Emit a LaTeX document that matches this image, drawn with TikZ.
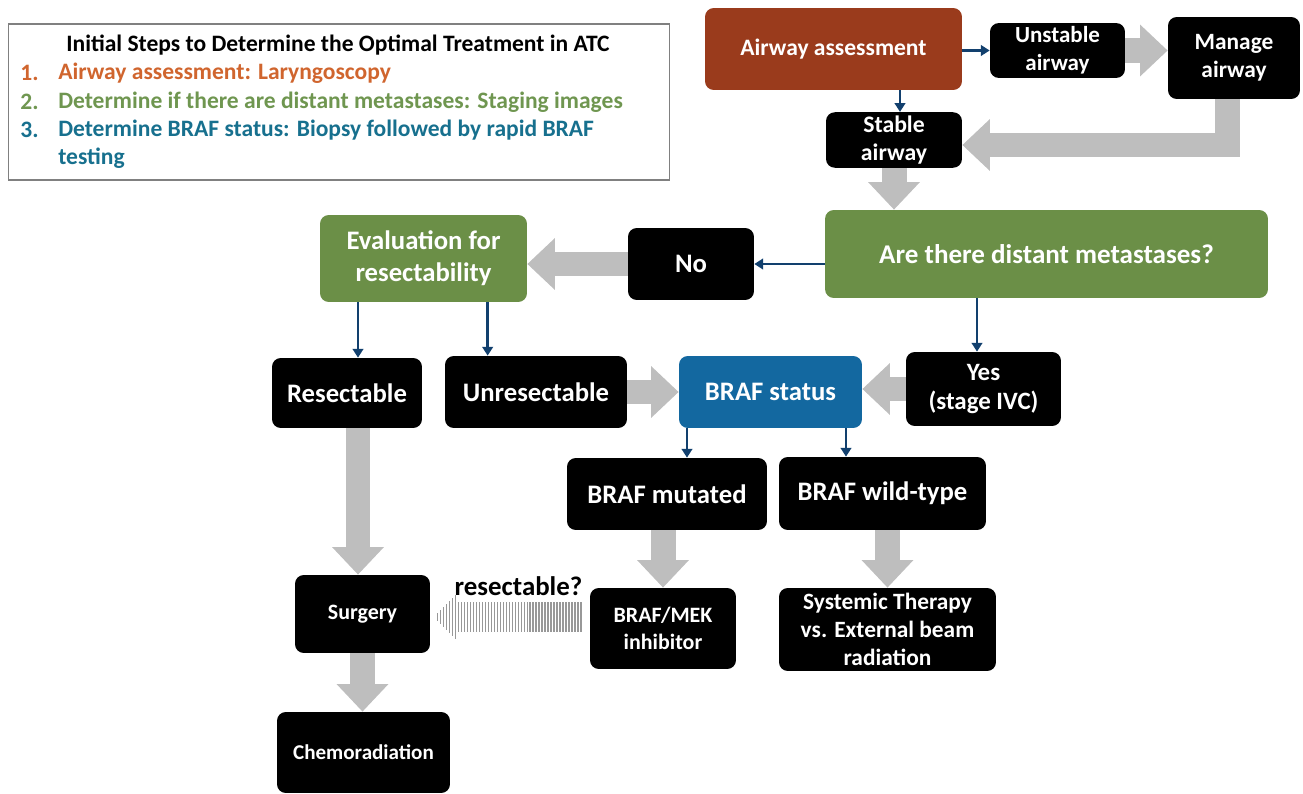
\documentclass[tikz,border=0pt]{standalone}
\usepackage{fontspec}
\setmainfont{Carlito}
\usetikzlibrary{arrows.meta,positioning,calc}

\definecolor{brownbox}{HTML}{9A3B1C}
\definecolor{greenbox}{HTML}{6B8F47}
\definecolor{bluebox}{HTML}{1368A0}
\definecolor{navyarrow}{HTML}{12406E}
\definecolor{grayarrow}{HTML}{BEBEBE}
\definecolor{legorange}{HTML}{D0652E}
\definecolor{leggreen}{HTML}{6F9650}
\definecolor{legblue}{HTML}{17708E}

\tikzset{
  box/.style={rectangle, rounded corners=5pt, align=center, text=white, inner sep=2pt,
    font=\bfseries\fontsize{15.2}{18}\selectfont},
  blackbox/.style={box, fill=black},
  smallbox/.style={blackbox, font=\bfseries\fontsize{12.5}{15}\selectfont},
  legtext/.style={anchor=west, inner sep=0pt, font=\bfseries\fontsize{13.4}{16}\selectfont},
  navy/.style={navyarrow, line width=1.4pt, -{Triangle[length=5pt,width=6pt]}},
  fat/.style={grayarrow, line width=0.5cm, -{Triangle[length=0.55cm,width=1cm]}},
}

\begin{document}
\begin{tikzpicture}[x=0.02cm,y=-0.02cm]
  \useasboundingbox (0,0) rectangle (1303,794);

  % legend
  \node[draw=gray, line width=0.6pt, minimum width=13.24cm, minimum height=3.12cm] (legend) at (339,102) {};
  \node[legtext, anchor=center, text=black] (leg0) at (338,45) {Initial Steps to Determine the Optimal Treatment in ATC};
  \node[legtext, text=legorange] (num1) at (20,73) {1.};
  \node[legtext, text=legorange] (leg1) at (58,73) {Airway assessment: Laryngoscopy};
  \node[legtext, text=leggreen]  (num2) at (20,102) {2.};
  \node[legtext, text=leggreen]  (leg2) at (58,102) {Determine if there are distant metastases: Staging images};
  \node[legtext, text=legblue]   (num3) at (20,130) {3.};
  \node[legtext, text=legblue]   (leg3) at (58,130) {Determine BRAF status: Biopsy followed by rapid BRAF};
  \node[legtext, text=legblue]   (leg4) at (58,158) {testing};

  % boxes
  \node[box, fill=brownbox, font=\bfseries\fontsize{13.4}{16}\selectfont, minimum width=5.14cm, minimum height=1.64cm] (airway) at (833.5,49) {Airway assessment};
  \node[blackbox, font=\bfseries\fontsize{13.1}{16}\selectfont, minimum width=2.7cm, minimum height=1.02cm] (unstable) at (1057.5,50.5) {Unstable\\airway};
  \node[blackbox, font=\bfseries\fontsize{13.3}{16}\selectfont, minimum width=2.64cm, minimum height=1.64cm] (manage) at (1234,58) {Manage\\airway};
  \node[blackbox, font=\bfseries\fontsize{13.5}{16}\selectfont, minimum width=2.72cm, minimum height=1.0cm] (stable) at (894,140) {Stable\\airway};
  \node[box, fill=greenbox, font=\bfseries\fontsize{15.4}{18}\selectfont, minimum width=8.86cm, minimum height=1.76cm] (distant) at (1046.5,254) {Are there distant metastases?};
  \node[blackbox, minimum width=2.52cm, minimum height=1.44cm] (no) at (691,264) {No};
  \node[box, fill=greenbox, minimum width=4.14cm, minimum height=1.74cm] (eval) at (423.5,258.5) {Evaluation for\\resectability};
  \node[blackbox, minimum width=3.0cm, minimum height=1.4cm] (res) at (347,393) {Resectable};
  \node[blackbox, minimum width=3.64cm, minimum height=1.44cm] (unres) at (536,392) {Unresectable};
  \node[box, fill=bluebox, minimum width=3.66cm, minimum height=1.44cm] (braf) at (770.5,392) {BRAF status};
  \node[blackbox, font=\bfseries\fontsize{14.2}{17}\selectfont, minimum width=3.1cm, minimum height=1.48cm] (yes) at (983.5,389) {Yes\\(stage IVC)};
  \node[blackbox, minimum width=4.0cm, minimum height=1.44cm] (mut) at (667,494) {BRAF mutated};
  \node[blackbox, minimum width=4.14cm, minimum height=1.46cm] (wild) at (882.5,493.5) {BRAF wild-type};
  \node[smallbox, minimum width=2.92cm, minimum height=1.62cm] (mek) at (663,628.5) {BRAF/MEK\\inhibitor};
  \node[smallbox, font=\bfseries\fontsize{13.3}{16}\selectfont, minimum width=4.34cm, minimum height=1.66cm] (sys) at (887.5,629.5) {Systemic Therapy\\vs. External beam\\radiation};
  \node[smallbox, minimum width=2.7cm, minimum height=1.56cm] (surg) at (362.5,614) {Surgery};
  \node[smallbox, font=\bfseries\fontsize{12}{15}\selectfont, minimum width=3.46cm, minimum height=1.62cm] (chemo) at (363.5,752.5) {Chemoradiation};

  % gray flow arrows
  \draw[fat] (unstable.east) -- (unstable.east -| manage.west);
  \draw[fat] ([xshift=-0.14cm]manage.south) |- ([yshift=-0.1cm]stable.east);
  \draw[fat] (stable.south) -- (stable.south |- distant.north);
  \draw[fat] (no.west) -- (no.west -| eval.east);
  \draw[fat] (unres.east) -- (unres.east -| braf.west);
  \draw[fat] (yes.west) -- (yes.west -| braf.east);
  \draw[fat] ([xshift=0.22cm]res.south) -- ([xshift=0.22cm]res.south |- surg.north);
  \draw[fat] (mek.north |- mut.south) -- (mek.north);
  \draw[fat] (sys.north |- wild.south) -- (sys.north);
  \draw[fat] (surg.south) -- (surg.south |- chemo.north);

  % dark decision arrows
  \draw[navy] (airway.east |- unstable.west) -- (unstable.west);
  \draw[navy] ([xshift=0.12cm]stable.north |- airway.south) -- ([xshift=0.12cm]stable.north);
  \draw[navy] (no.east -| distant.west) -- (no.east);
  \draw[navy] ([xshift=-0.13cm]yes.north |- distant.south) -- ([xshift=-0.13cm]yes.north);
  \draw[navy] ([xshift=0.22cm]res.north |- eval.south) -- ([xshift=0.22cm]res.north);
  \draw[navy] ([xshift=0.86cm]unres.north west |- eval.south) -- ([xshift=0.86cm]unres.north west);
  \draw[navy] ([xshift=0.4cm]mut.north |- braf.south) -- ([xshift=0.4cm]mut.north);
  \draw[navy] ([xshift=-0.73cm]wild.north |- braf.south) -- ([xshift=-0.73cm]wild.north);

  % hatched arrow back to surgery
  \coordinate (tip) at ($(surg.east)+(5,3)$);
  \draw[grayarrow!80!black, line width=0.6cm, dash pattern=on 0.8pt off 0.9pt]
    ([xshift=-0.16cm]mek.west |- tip) -- ($(tip)+(20,0)$)
    node[midway, above=0cm, text=black, font=\bfseries\fontsize{15.3}{18}\selectfont] (label) {resectable?};
  \foreach \k in {0,...,6}
    \draw[grayarrow!80!black, line width=0.8pt] ($(tip)+(2+3*\k,-4-3*\k)$) -- ($(tip)+(2+3*\k,4+3*\k)$);
\end{tikzpicture}
\end{document}
